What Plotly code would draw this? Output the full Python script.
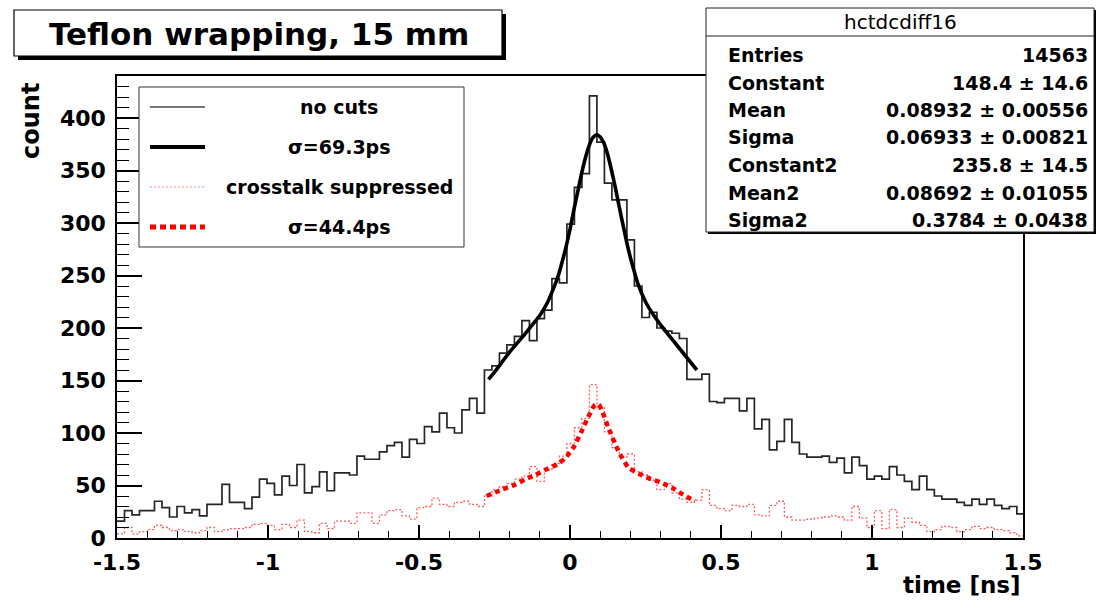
import numpy as np
import plotly.graph_objects as go

# ---------------- data ----------------
BIN_START = -1.5
BIN_WIDTH = 0.02483          # visual bin width (ns)

NOCUTS = [16, 26, 22, 26, 26, 35, 29, 20, 30, 24,
          27, 21, 32, 32, 51, 34, 34, 28, 39, 56,
          52, 41, 59, 50, 70, 43, 49, 63, 45, 62,
          62, 60, 78, 75, 75, 82, 88, 91, 77, 94,
          90, 106, 101, 119, 105, 100, 122, 133, 119, 160,
          164, 176, 184, 192, 207, 188, 209, 217, 247, 243,
          299, 334, 347, 421, 377, 338, 322, 322, 284, 240,
          210, 215, 200, 197, 195, 190, 151, 151, 156, 130,
          129, 133, 133, 121, 133, 104, 113, 84, 92, 113,
          91, 80, 77, 77, 78, 72, 76, 62, 77, 69,
          56, 59, 56, 68, 60, 54, 46, 59, 46, 40,
          37, 37, 34, 31, 37, 32, 37, 31, 28, 30,
          23]

CROSSTALK = [4, 10, 4, 6, 8, 12, 10, 7, 8, 6,
             5, 7, 10, 6, 8, 9, 9, 10, 13, 14,
             12, 8, 13, 10, 17, 6, 5, 14, 9, 16,
             16, 14, 24, 24, 14, 22, 26, 27, 21, 18,
             29, 30, 38, 32, 30, 34, 35, 32, 30, 40,
             46, 49, 52, 56, 59, 68, 54, 65, 71, 78,
             90, 105, 114, 146, 124, 101, 86, 77, 80, 63,
             60, 55, 46, 52, 43, 37, 34, 36, 46, 31,
             28, 26, 31, 30, 32, 22, 21, 31, 35, 20,
             17, 17, 18, 19, 20, 21, 20, 17, 30, 19,
             10, 26, 9, 27, 10, 19, 15, 12, 6, 8,
             11, 10, 6, 8, 11, 9, 10, 8, 7, 5,
             2]

FIT1_X = [-0.27, -0.25, -0.20, -0.15, -0.125, -0.10, -0.075, -0.05, -0.0375, -0.025,
          -0.0125, 0.0, 0.0125, 0.025, 0.0375, 0.05, 0.0625, 0.075, 0.089, 0.10,
          0.1125, 0.125, 0.1375, 0.15, 0.1625, 0.175, 0.1875, 0.20, 0.2125, 0.225,
          0.25, 0.275, 0.30, 0.35, 0.42]
FIT1_Y = [151, 158, 177, 194, 203, 212, 224, 241, 251, 264,
          278, 294, 312, 329, 346, 361, 373, 381, 384, 382,
          376, 365, 350, 334, 316, 299, 282, 267, 254, 242,
          225, 213, 203, 185, 160]

FIT2_X = [-0.276, -0.226, -0.18, -0.148, -0.115, -0.082, -0.043, -0.016, 0.011, 0.039,
          0.06, 0.083, 0.095, 0.105, 0.127, 0.16, 0.194, 0.23, 0.26, 0.30,
          0.337, 0.37, 0.414]
FIT2_Y = [40, 46, 51, 56, 60, 65, 70, 76, 86, 102,
          115, 127, 127, 122, 105, 83, 67, 61, 57, 53,
          48, 42, 35]

X_TICKS = [-1.5, -1.0, -0.5, 0.0, 0.5, 1.0, 1.5]
X_TICK_LABELS = ["-1.5", "-1", "-0.5", "0", "0.5", "1", "1.5"]
Y_TICKS = [0, 50, 100, 150, 200, 250, 300, 350, 400]
Y_TICK_LABELS = ["0", "50", "100", "150", "200", "250", "300", "350", "400"]

LEGEND_LABELS = ["no cuts", "\u03c3=69.3ps", "crosstalk suppressed", "\u03c3=44.4ps"]
STATS_TITLE = "hctdcdiff16"
STATS_NAMES = ["Entries", "Constant", "Mean", "Sigma", "Constant2", "Mean2", "Sigma2"]
STATS_VALUES = ["14563", "148.4 \u00b1 14.6", "0.08932 \u00b1 0.00556", "0.06933 \u00b1 0.00821",
                "235.8 \u00b1 14.5", "0.08692 \u00b1 0.01055", "0.3784 \u00b1 0.0438"]
TITLE = "Teflon wrapping, 15 mm"

# ---------------- layout geometry ----------------
W, H = 1099, 604
L, R, T, B = 117, 1023, 76, 538
FONT = "DejaVu Sans"


def px(x):
    return (x - L) / (R - L)


def py(y):
    return (B - y) / (B - T)


n = len(NOCUTS)
edges = BIN_START + BIN_WIDTH * np.arange(n + 1)

fig = go.Figure()
fig.add_trace(go.Scatter(x=edges, y=list(NOCUTS) + [NOCUTS[-1]], mode="lines",
                         line=dict(shape="hv", color="#262626", width=1.7),
                         name=LEGEND_LABELS[0], showlegend=False))
fig.add_trace(go.Scatter(x=edges, y=list(CROSSTALK) + [CROSSTALK[-1]], mode="lines",
                         line=dict(shape="hv", color="#ff5c5c", width=1.3, dash="2px,2px"),
                         name=LEGEND_LABELS[2], showlegend=False))
fig.add_trace(go.Scatter(x=FIT1_X, y=FIT1_Y, mode="lines",
                         line=dict(shape="spline", smoothing=0.6, color="black", width=3.6),
                         name=LEGEND_LABELS[1], showlegend=False))
fig.add_trace(go.Scatter(x=FIT2_X, y=FIT2_Y, mode="lines",
                         line=dict(shape="spline", smoothing=0.6, color="#ff0000", width=4.5,
                                   dash="5px,4px"),
                         name=LEGEND_LABELS[3], showlegend=False))

shapes = []
annotations = []

# title box with shadow
shapes.append(dict(type="rect", xref="paper", yref="paper", x0=px(18), x1=px(506), y0=py(14), y1=py(60),
                   fillcolor="black", line=dict(width=0), layer="above"))
shapes.append(dict(type="rect", xref="paper", yref="paper", x0=px(14), x1=px(502), y0=py(10), y1=py(56),
                   fillcolor="white", line=dict(color="black", width=1.2), layer="above"))
annotations.append(dict(xref="paper", yref="paper", x=px(259), y=py(34), text=TITLE, showarrow=False,
                        xanchor="center", yanchor="middle",
                        font=dict(family=FONT, size=31, color="black", weight="bold")))

# legend box
shapes.append(dict(type="rect", xref="paper", yref="paper", x0=px(139), x1=px(464), y0=py(87), y1=py(247),
                   fillcolor="white", line=dict(color="#333333", width=1), layer="above"))
leg_rows = [107, 147, 187, 227]
leg_styles = [dict(color="#777777", width=2),
              dict(color="black", width=4),
              dict(color="#ff9090", width=1, dash="2px,2px"),
              dict(color="#ff0000", width=5, dash="6px,4px")]
for yrow, st, lab in zip(leg_rows, leg_styles, LEGEND_LABELS):
    shapes.append(dict(type="line", xref="paper", yref="paper", x0=px(150), x1=px(205),
                       y0=py(yrow), y1=py(yrow), line=st, layer="above"))
    annotations.append(dict(xref="paper", yref="paper", x=px(339), y=py(yrow), text=lab, showarrow=False,
                            xanchor="center", yanchor="middle",
                            font=dict(family=FONT, size=19, color="black", weight="bold")))

# stats box
shapes.append(dict(type="rect", xref="paper", yref="paper", x0=px(708), x1=px(1096), y0=py(10), y1=py(234),
                   fillcolor="black", line=dict(width=0), layer="above"))
shapes.append(dict(type="rect", xref="paper", yref="paper", x0=px(706), x1=px(1094), y0=py(8), y1=py(232),
                   fillcolor="white", line=dict(color="#222222", width=1), layer="above"))
shapes.append(dict(type="line", xref="paper", yref="paper", x0=px(706), x1=px(1094), y0=py(36), y1=py(36),
                   line=dict(color="#222222", width=1), layer="above"))
annotations.append(dict(xref="paper", yref="paper", x=px(900), y=py(22), text=STATS_TITLE, showarrow=False,
                        xanchor="center", yanchor="middle",
                        font=dict(family=FONT, size=20, color="black")))
for i, (nm, val) in enumerate(zip(STATS_NAMES, STATS_VALUES)):
    yy = 55 + 27.5 * i
    annotations.append(dict(xref="paper", yref="paper", x=px(726), y=py(yy), text=nm, showarrow=False,
                            xanchor="left", yanchor="middle",
                            font=dict(family=FONT, size=19, color="black", weight="bold")))
    annotations.append(dict(xref="paper", yref="paper", x=px(1090), y=py(yy), text=val, showarrow=False,
                            xanchor="right", yanchor="middle",
                            font=dict(family=FONT, size=19, color="black", weight="bold")))

# axis titles
annotations.append(dict(xref="paper", yref="paper", x=px(31), y=py(121), text="count", showarrow=False,
                        textangle=-90, xanchor="center", yanchor="middle",
                        font=dict(family=FONT, size=24, color="black", weight="bold")))
annotations.append(dict(xref="paper", yref="paper", x=px(1023), y=py(585), text="time [ns]", showarrow=False,
                        xanchor="right", yanchor="middle",
                        font=dict(family=FONT, size=23, color="black", weight="bold")))

tickfont = dict(family=FONT, size=22, color="black", weight="bold")
fig.update_layout(
    width=W, height=H, autosize=False,
    margin=dict(l=L, r=W - R, t=T, b=H - B, pad=0),
    paper_bgcolor="white", plot_bgcolor="white",
    showlegend=False,
    shapes=shapes, annotations=annotations,
    xaxis=dict(range=[-1.5, 1.5], showgrid=False, zeroline=False, showline=True, linecolor="black",
               linewidth=1.5, mirror=True, ticks="inside", ticklen=13, tickwidth=1.5, tickcolor="black",
               tickvals=X_TICKS, ticktext=X_TICK_LABELS, tickfont=tickfont, ticklabelstandoff=4,
               minor=dict(ticks="inside", ticklen=7, tickwidth=1.2, tickcolor="black", dtick=0.1,
                          tick0=-1.5, showgrid=False)),
    yaxis=dict(range=[0, 440], showgrid=False, zeroline=False, showline=True, linecolor="black",
               linewidth=1.5, mirror=True, ticks="inside", ticklen=25, tickwidth=1.5, tickcolor="black",
               tickvals=Y_TICKS, ticktext=Y_TICK_LABELS, tickfont=tickfont, ticklabelstandoff=5,
               minor=dict(ticks="inside", ticklen=12, tickwidth=1.2, tickcolor="black", dtick=10,
                          tick0=0, showgrid=False)),
)

fig.write_html("out.html")
